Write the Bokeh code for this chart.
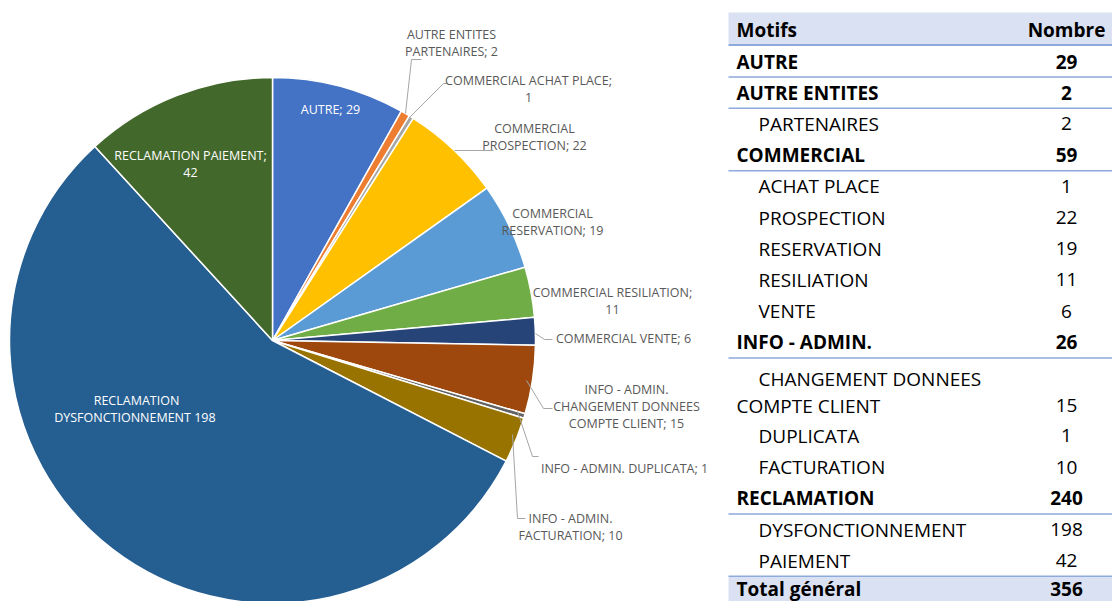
import math
from bokeh.plotting import figure
from bokeh.models import Range1d, ColumnDataSource
from bokeh.core.properties import value
from bokeh.embed import file_html
from bokeh.resources import INLINE

# ---------------- data ----------------
pie_labels = ["AUTRE", "AUTRE ENTITES PARTENAIRES", "COMMERCIAL ACHAT PLACE",
              "COMMERCIAL PROSPECTION", "COMMERCIAL RESERVATION", "COMMERCIAL RESILIATION",
              "COMMERCIAL VENTE", "INFO - ADMIN. CHANGEMENT DONNEES COMPTE CLIENT",
              "INFO - ADMIN. DUPLICATA", "INFO - ADMIN. FACTURATION",
              "RECLAMATION DYSFONCTIONNEMENT", "RECLAMATION PAIEMENT"]
pie_values = [29, 2, 1, 22, 19, 11, 6, 15, 1, 10, 198, 42]
pie_colors = ["#4472C4", "#ED7D31", "#A5A5A5", "#FFC000", "#5B9BD5", "#70AD47",
              "#264478", "#9E480E", "#636363", "#997300", "#255E91", "#43682B"]

# label texts (as displayed) and whether inside slice
label_lines = [
    ["AUTRE; 29"],
    ["AUTRE ENTITES", "PARTENAIRES; 2"],
    ["COMMERCIAL ACHAT PLACE;", "1"],
    ["COMMERCIAL", "PROSPECTION; 22"],
    ["COMMERCIAL", "RESERVATION; 19"],
    ["COMMERCIAL RESILIATION;", "11"],
    ["COMMERCIAL VENTE; 6"],
    ["INFO - ADMIN.", "CHANGEMENT DONNEES", "COMPTE CLIENT; 15"],
    ["INFO - ADMIN. DUPLICATA; 1"],
    ["INFO - ADMIN.", "FACTURATION; 10"],
    ["RECLAMATION", "DYSFONCTIONNEMENT  198"],
    ["RECLAMATION PAIEMENT;", "42"],
]
label_inside = [True, False, False, False, False, False, False, False, False, False, True, True]

table_motifs = ["AUTRE", "AUTRE ENTITES", "PARTENAIRES", "COMMERCIAL", "ACHAT PLACE",
                "PROSPECTION", "RESERVATION", "RESILIATION", "VENTE", "INFO - ADMIN.",
                "CHANGEMENT DONNEES\nCOMPTE CLIENT", "DUPLICATA", "FACTURATION",
                "RECLAMATION", "DYSFONCTIONNEMENT", "PAIEMENT"]
table_levels = [0, 0, 1, 0, 1, 1, 1, 1, 1, 0, 1, 1, 1, 0, 1, 1]
table_counts = [29, 2, 2, 59, 1, 22, 19, 11, 6, 26, 15, 1, 10, 240, 198, 42]
table_header = ["Motifs", "Nombre"]
total_label = "Total général"
total_value = 356

# ---------------- layout (reference page pixels) ----------------
W, H = 1112, 601
def X(px): return px
def Y(py): return H - py

# label anchor positions (center of first line) and leader polylines
label_pos = [(330, 109), (451, 34), (528, 80), (534, 128), (552, 213), (612, 292),
             (623, 338), (626, 389), (624, 468), (570, 518), (136, 400), (190, 155)]
leaders = [None,
           [(405, 113), (411, 59), (421, 59)],
           [(409, 117), (443, 83), (447, 83)],
           [(454, 150), (493, 150)],
           None, None,
           [(535, 333), (544, 339), (552, 339)],
           [(526, 380), (543, 408), (552, 408)],
           [(517, 411), (532, 456), (538, 456)],
           [(512, 434), (517, 518), (525, 518)],
           None, None]

p = figure(width=W, height=H, output_backend="svg", toolbar_location=None,
           x_range=Range1d(0, W), y_range=Range1d(0, H), min_border=0)
p.axis.visible = False
p.grid.visible = False
p.outline_line_color = None
p.background_fill_color = "white"
p.border_fill_color = "white"

# ---------------- pie ----------------
cx, cy, R = X(272), Y(340), 263
total = sum(pie_values)
starts, ends = [], []
acc = 0
for v in pie_values:
    starts.append(math.pi / 2 - acc / total * 2 * math.pi)
    acc += v
    ends.append(math.pi / 2 - acc / total * 2 * math.pi)
src = ColumnDataSource(dict(start=starts, end=ends, color=pie_colors, label=pie_labels))
p.wedge(x=cx, y=cy, radius=R, start_angle="start", end_angle="end", direction="clock",
        fill_color="color", line_color="white", line_width=1.5, source=src)

# leader lines
for ld in leaders:
    if ld:
        p.line([X(a) for a, b in ld], [Y(b) for a, b in ld], line_color="#A6A6A6", line_width=1)

# labels
lx, ly, lt, lc = [], [], [], []
for lines, (ax, ay), inside in zip(label_lines, label_pos, label_inside):
    for k, t in enumerate(lines):
        lx.append(X(ax)); ly.append(Y(ay + k * 17)); lt.append(t)
        lc.append("white" if inside else "#595959")
p.text(x=lx, y=ly, text=lt, text_color=lc, text_font=value("Open Sans"),
       text_font_size="12.5px", text_align="center", text_baseline="middle")

# ---------------- table ----------------
tx0, tx1 = X(728), X(1112)
num_x = X(1066)
line_col = "#8EA9DB"
band_col = "#D9E1F2"
font = value("Open Sans")
fs = "19px"

# header band
p.quad(left=tx0, right=tx1, top=Y(12), bottom=Y(44), fill_color=band_col, line_color=None)
p.line([tx0, tx1], [Y(44.5), Y(44.5)], line_color=line_col, line_width=2)
p.text(x=[X(736)], y=[Y(29)], text=[table_header[0]], text_font=font, text_font_size=fs,
       text_font_style="bold", text_baseline="middle", text_color="black")
p.text(x=[num_x], y=[Y(29)], text=[table_header[1]], text_font=font, text_font_size=fs,
       text_font_style="bold", text_baseline="middle", text_align="center", text_color="black")

pitch = 31.2
top = 61 - pitch / 2
for name, lvl, cnt in zip(table_motifs, table_levels, table_counts):
    parts = name.split("\n")
    n = len(parts)
    h = pitch * n
    center = top + h / 2
    style = "bold" if lvl == 0 else "normal"
    for k, part in enumerate(parts):
        yy = center + (k - (n - 1) / 2) * 27 + (3 if n > 1 else 0)
        xx = 736 + (22 if (lvl == 1 and k == 0) else 0)
        p.text(x=[X(xx)], y=[Y(yy)], text=[part], text_font=font, text_font_size=fs,
               text_font_style=style, text_baseline="middle", text_color="black")
    ny = center + ((n - 1) / 2) * 27 + (3 if n > 1 else 0)
    p.text(x=[num_x], y=[Y(ny)], text=[str(cnt)], text_font=font, text_font_size=fs,
           text_font_style=style, text_baseline="middle", text_align="center", text_color="black")
    bottom = top + h
    if lvl == 0:
        p.line([tx0, tx1], [Y(bottom), Y(bottom)], line_color=line_col, line_width=1.5)
    top = bottom

# total row
p.quad(left=tx0, right=tx1, top=Y(top), bottom=Y(top + 40), fill_color=band_col, line_color=None)
p.line([tx0, tx1], [Y(top), Y(top)], line_color=line_col, line_width=1.5)
p.text(x=[X(736)], y=[Y(top + 12.5)], text=[total_label], text_font=font, text_font_size=fs,
       text_font_style="bold", text_baseline="middle", text_color="black")
p.text(x=[num_x], y=[Y(top + 12.5)], text=[str(total_value)], text_font=font, text_font_size=fs,
       text_font_style="bold", text_baseline="middle", text_align="center", text_color="black")

open("out.html", "w").write(file_html(p, INLINE))
